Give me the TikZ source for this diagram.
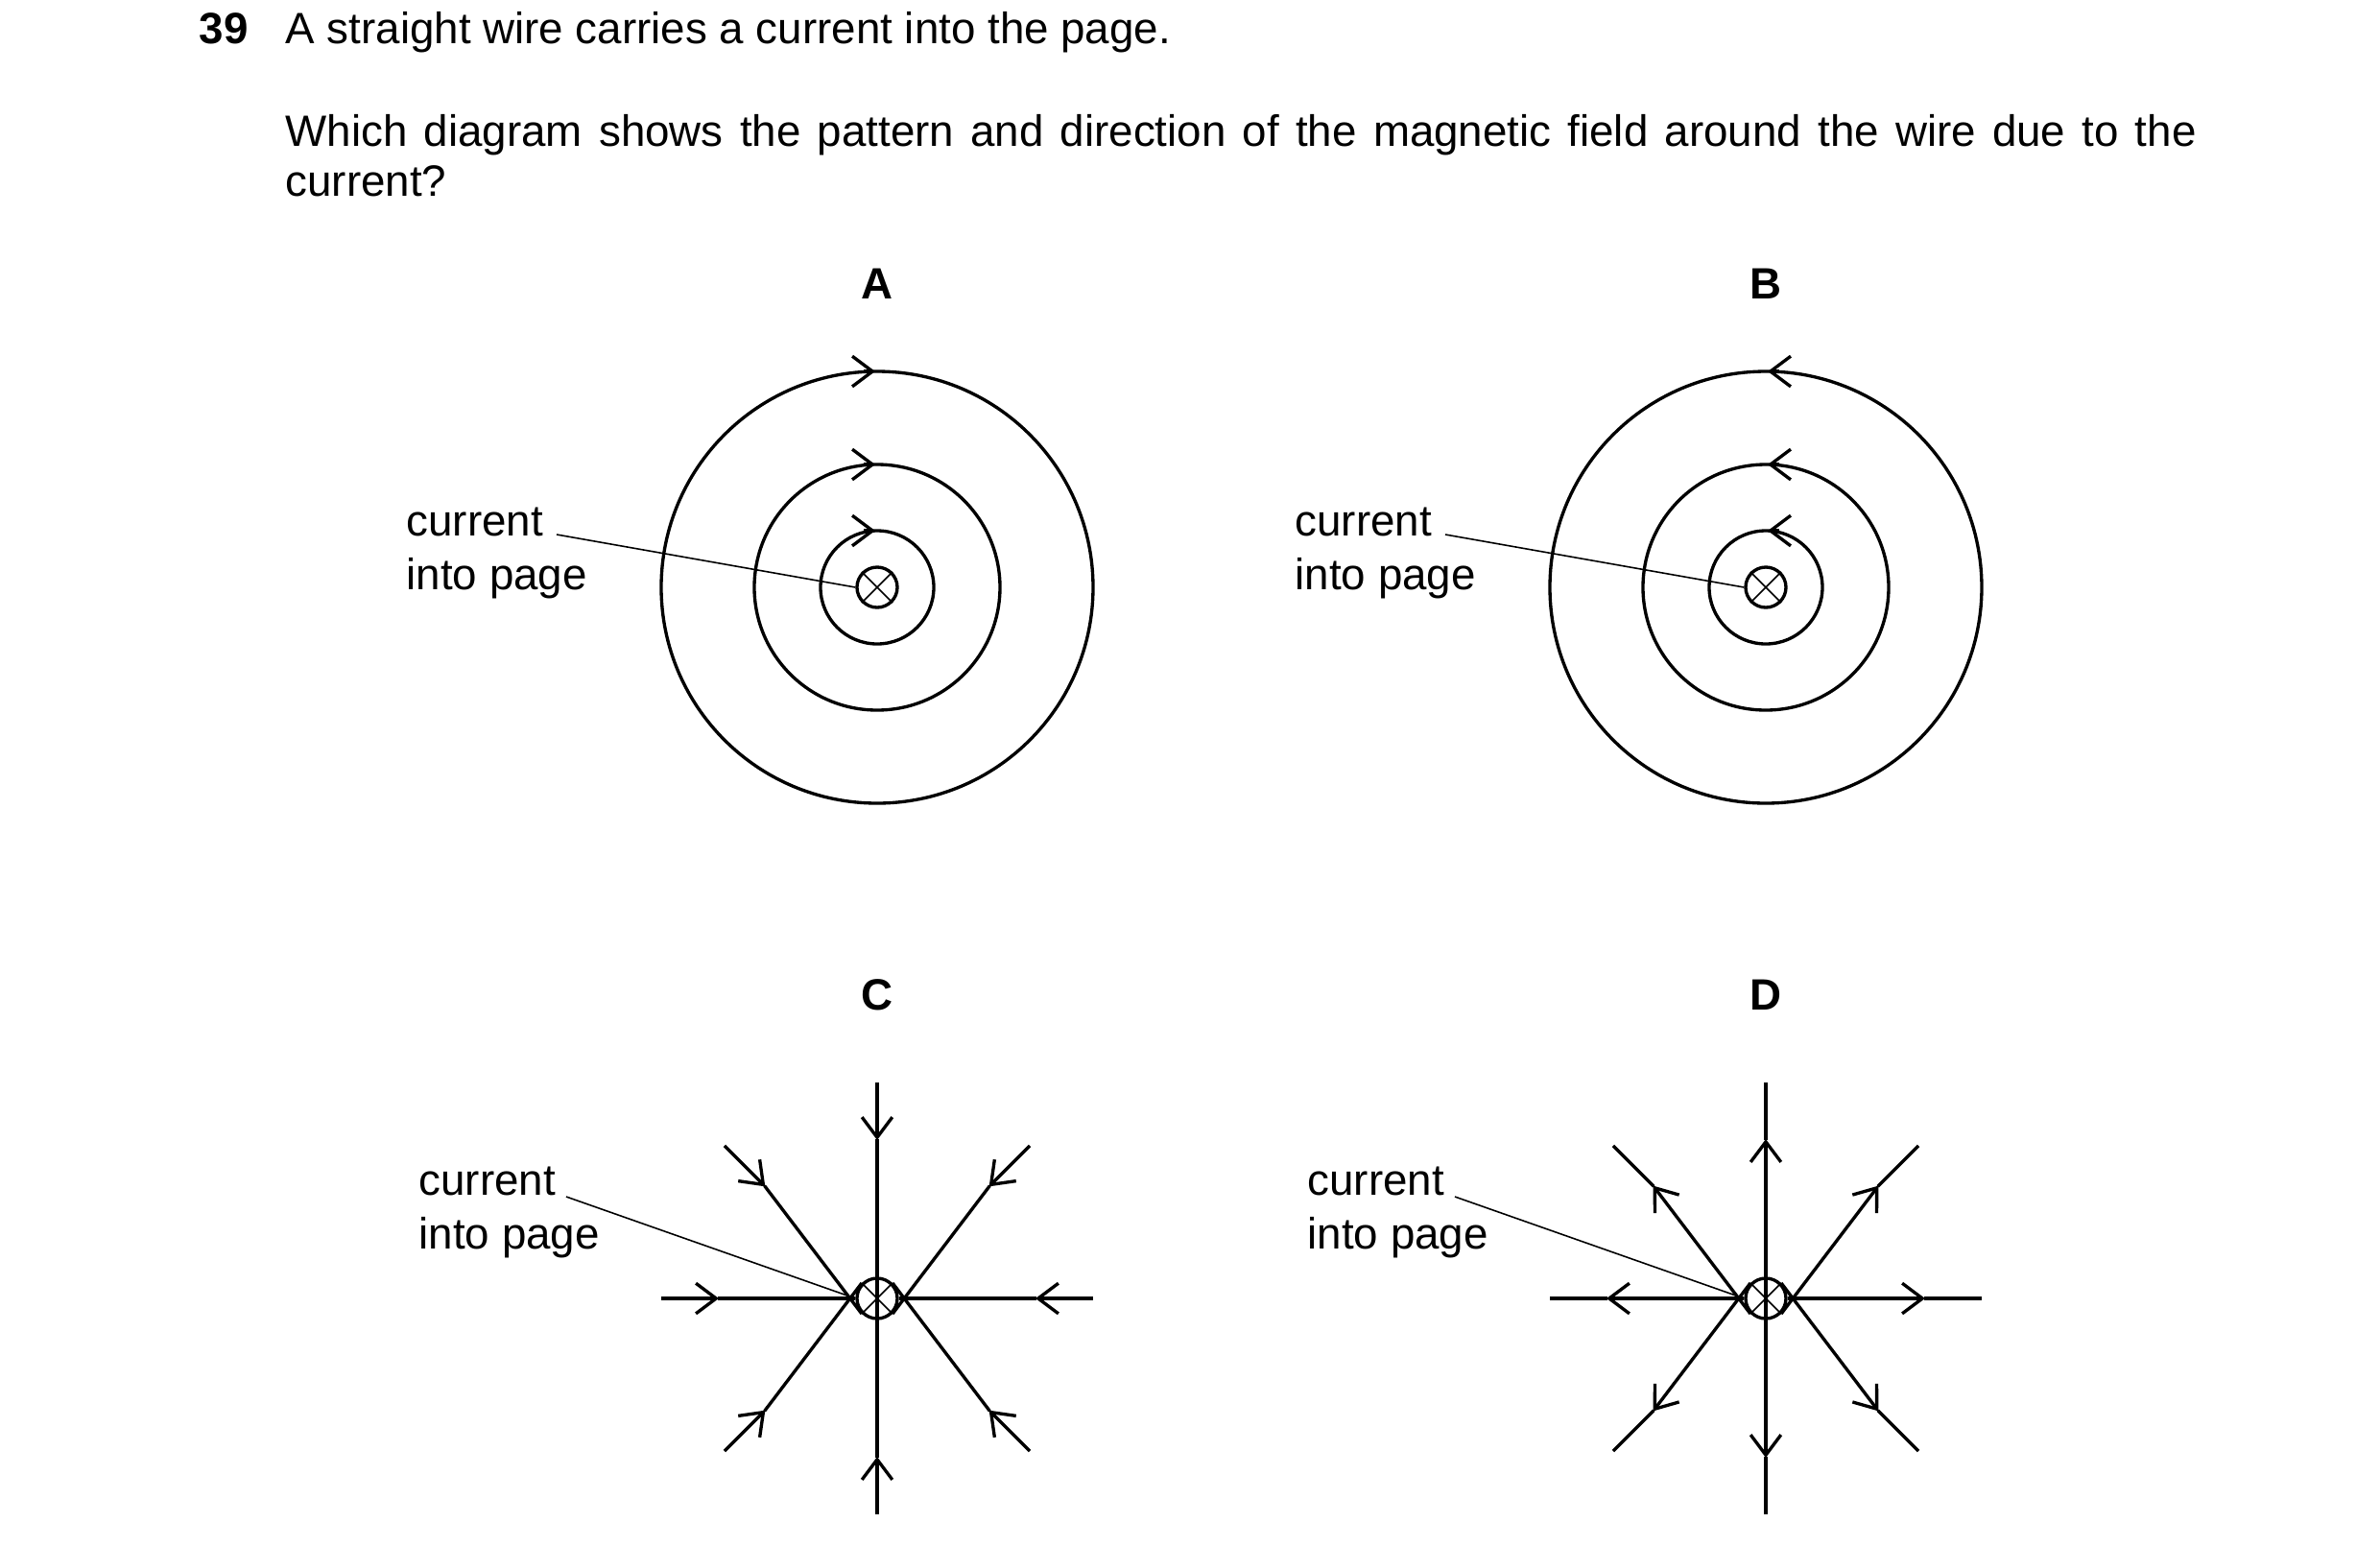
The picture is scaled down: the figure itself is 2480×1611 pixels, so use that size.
\documentclass[tikz,border=0pt]{standalone}
\usepackage{fontspec}
\setmainfont{Liberation Sans}
\usetikzlibrary{arrows.meta}
\begin{document}
\begin{tikzpicture}[x=0.01cm,y=-0.01cm,
    every node/.style={font=\fontsize{13}{16}\selectfont},
    wire/.style={circle, draw, line width=0.95pt, minimum size=0.42cm, inner sep=0pt},
    field/.style={line width=0.95pt},
    tip/.style={-{Straight Barb[length=6pt,width=9pt]}},
    leader/.style={line width=0.45pt},
    label/.style={align=left, anchor=north west, inner sep=0pt},
    letter/.style={font=\fontsize{13}{16}\selectfont\bfseries}]
    \useasboundingbox (0,0) rectangle (2480,1611);

    % question
    \node[anchor=base west, inner sep=0pt, font=\fontsize{13}{16}\selectfont\bfseries] (num) at (207,45) {39};
    \node[anchor=base west, inner sep=0pt] (q1) at (297,45) {A straight wire carries a current into the page.};
    \node[anchor=north west, inner sep=0pt, text width=19.9cm, align=justify,
        font=\fontsize{13}{14.6}\selectfont] (q2) at (297,119)
        {Which diagram shows the pattern and direction of the magnetic field around the wire due to the current?};

    % wires
    \foreach \n/\x/\y in {A/914/612, B/1840/612, C/914/1353, D/1840/1353} {
        \node[wire] (w\n) at (\x,\y) {};
        \draw[leader] (w\n.45) -- (w\n.225) (w\n.135) -- (w\n.315);
        \node[letter] (let\n) at (\x,\y-316) {\n};
    }

    % diagrams A and B: circles
    \foreach \r in {59,128,225} {
        \draw[field] (wA) circle (\r);
        \draw[field, tip] ([xshift=-4]wA.center) ++(0,-\r) -- ++(12,0);
        \draw[field] (wB) circle (\r);
        \draw[field, tip] ([xshift=4]wB.center) ++(0,-\r) -- ++(-12,0);
    }

    % diagrams C and D: radial lines
    \foreach \a in {0,45,...,315} {
        \draw[field, tip] (wC) ++(\a:225) -- ++(\a+180:60);
        \draw[field] (wC) ++(\a:166) -- (wC.\a);
        \draw[field, tip] (wD.\a) -- ([shift={(\a:166)}]wD.center);
        \draw[field] (wD) ++(\a:165) -- ++(\a:60);
    }

    % labels
    \node[label] (labA) at (423,528) {current\\into page};
    \node[label] (labB) at (1349,528) {current\\into page};
    \node[label] (labC) at (436,1215) {current\\into page};
    \node[label] (labD) at (1362,1215) {current\\into page};
    \coordinate (endA) at (580,557);
    \coordinate (endB) at (1506,557);
    \coordinate (endC) at (590,1247);
    \coordinate (endD) at (1516,1247);
    \foreach \n in {A,B,C,D}
        \draw[leader] (end\n) -- (w\n.west);
\end{tikzpicture}
\end{document}
